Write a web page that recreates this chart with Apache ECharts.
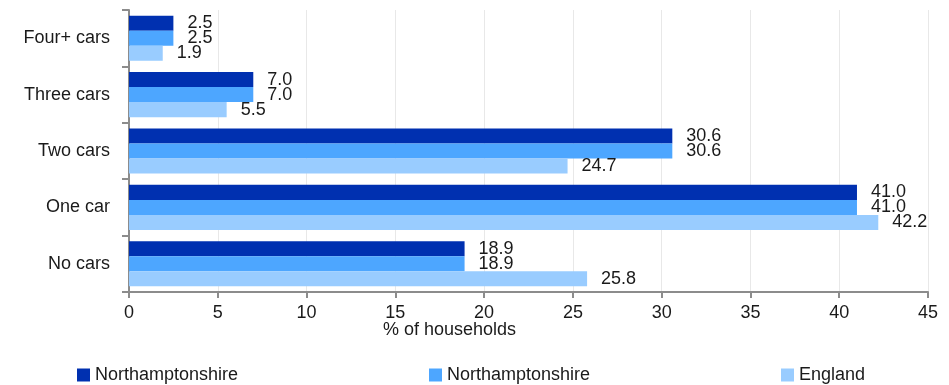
<!DOCTYPE html>
<html><head><meta charset="utf-8">
<script src="https://cdn.jsdelivr.net/npm/echarts@6/dist/echarts.min.js"></script>
<style>html,body{margin:0;padding:0;background:#fff}#c{width:949px;height:385px}</style>
</head><body><div id="c"></div>
<script>
var categories = ['Four+ cars','Three cars','Two cars','One car','No cars'];
var northants1 = [2.5, 7.0, 30.6, 41.0, 18.9];
var northants2 = [2.5, 7.0, 30.6, 41.0, 18.9];
var england = [1.9, 5.5, 24.7, 42.2, 25.8];
var xTicks = [0,5,10,15,20,25,30,35,40,45];
var seriesNames = ['Northamptonshire#1','Northamptonshire#2','England'];
var legendLabels = ['Northamptonshire','Northamptonshire','England'];
var colors = ['#0030B0','#4DA6FF','#99CCFF'];
var font = 'Liberation Sans, Arial, sans-serif';
var chart = echarts.init(document.getElementById('c'));
function mkSeries(i, data){
  return {type:'bar', name:seriesNames[i], data:data, barGap:'0%', barCategoryGap:'20%',
    itemStyle:{color:colors[i]},
    label:{show:true, position:'right', distance:14, color:'#1a1a1a', fontSize:18, fontFamily:font,
      formatter:function(p){return p.value.toFixed(1);}}};
}
function mkLegend(i, left){
  return {data:[seriesNames[i]], left:left, top:361, itemWidth:13, itemHeight:13, itemGap:5,
    icon:'rect', textStyle:{fontSize:18, color:'#1a1a1a', fontFamily:font},
    formatter:function(){return legendLabels[i];}};
}
chart.setOption({
  animation:false,
  textStyle:{fontFamily:font},
  grid:{left:129, right:21, top:10, bottom:93, containLabel:false},
  legend:[mkLegend(0,72), mkLegend(1,424), mkLegend(2,776)],
  xAxis:{type:'value', min:0, max:45, interval:5,
    name:'% of households', nameLocation:'middle', nameGap:29, nameMoveOverlap:false,
    nameTextStyle:{fontSize:18, color:'#1a1a1a', fontFamily:font, padding:[0,158,0,0]},
    axisLine:{show:true, lineStyle:{color:'#8c8c8c', width:2}},
    axisTick:{show:true, length:6, lineStyle:{color:'#8c8c8c', width:2}},
    axisLabel:{fontSize:18, color:'#1a1a1a', margin:12, fontFamily:font,
      formatter:function(v){return xTicks.indexOf(v)>=0 ? String(v) : '';}},
    splitLine:{show:true, lineStyle:{color:'#e8e8e8', width:1}}},
  yAxis:{type:'category', data:categories, inverse:true,
    axisLine:{show:true, lineStyle:{color:'#8c8c8c', width:2}},
    axisTick:{show:true, length:7, lineStyle:{color:'#8c8c8c', width:2}},
    axisLabel:{fontSize:18, color:'#1a1a1a', margin:19, fontFamily:font}},
  series:[mkSeries(0,northants1), mkSeries(1,northants2), mkSeries(2,england)]
});
</script></body></html>
